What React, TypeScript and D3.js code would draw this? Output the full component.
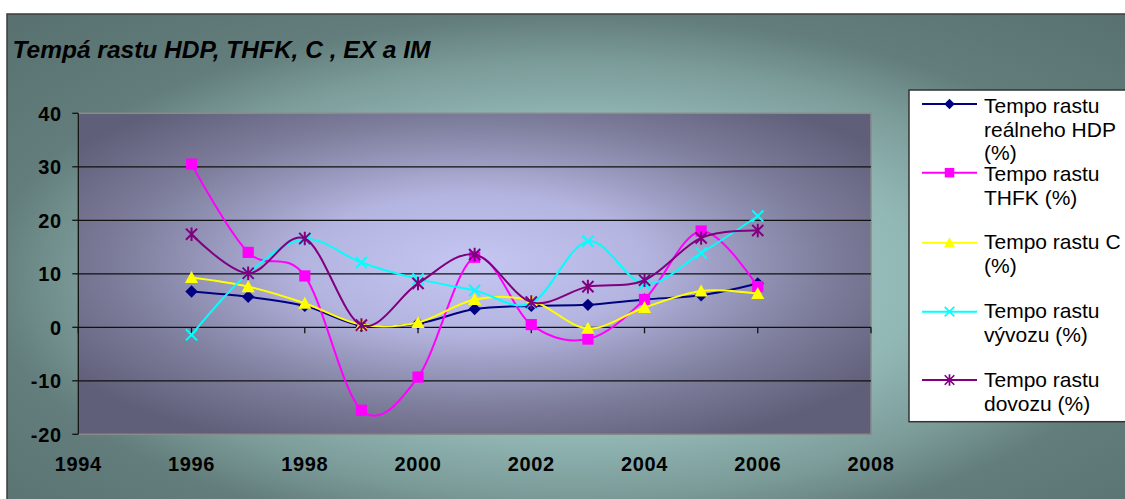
import React from "react";
import * as d3 from "d3";

// Growth rates (%) of the Slovak economy, 1996–2006
const years = [1996, 1997, 1998, 1999, 2000, 2001, 2002, 2003, 2004, 2005, 2006];
const hdp = [6.7, 5.7, 4.0, 0.3, 0.7, 3.4, 4.0, 4.2, 5.2, 6.0, 8.2];
const thfk = [30.5, 14.0, 9.6, -15.5, -9.3, 13.1, 0.5, -2.2, 5.2, 18.0, 7.6];
const spotreba = [9.3, 7.6, 4.5, 0.5, 0.9, 5.2, 5.0, -0.2, 3.7, 6.8, 6.3];
const vyvoz = [-1.4, 10.1, 16.5, 12.1, 9.0, 6.9, 4.5, 16.1, 8.1, 13.9, 20.8];
const dovoz = [17.4, 10.1, 16.6, 0.4, 8.2, 13.6, 4.7, 7.6, 8.8, 16.7, 18.1];

const xTicks = [1994, 1996, 1998, 2000, 2002, 2004, 2006, 2008];
const yTicks = [-20, -10, 0, 10, 20, 30, 40];
const gridValues = [-10, 0, 10, 20, 30];

const title = "Tempá rastu HDP, THFK, C , EX a IM";

type MarkerKind = "diamond" | "square" | "triangle" | "cross" | "star";

const series: { key: string; values: number[]; color: string; marker: MarkerKind; label: string[] }[] = [
  { key: "hdp", values: hdp, color: "#000080", marker: "diamond", label: ["Tempo rastu", "reálneho HDP", "(%)"] },
  { key: "thfk", values: thfk, color: "#ff00ff", marker: "square", label: ["Tempo rastu", "THFK (%)"] },
  { key: "c", values: spotreba, color: "#ffff00", marker: "triangle", label: ["Tempo rastu C", "(%)"] },
  { key: "ex", values: vyvoz, color: "#00ffff", marker: "cross", label: ["Tempo rastu", "vývozu (%)"] },
  { key: "im", values: dovoz, color: "#800080", marker: "star", label: ["Tempo rastu", "dovozu (%)"] },
];

const W = 1125;
const H = 499;
const plot = { left: 78.3, right: 871, top: 113.3, bottom: 434.3 };
const font = "'Liberation Sans', Arial, Helvetica, sans-serif";

function Marker({ kind, color, x, y, s = 1 }: { kind: MarkerKind; color: string; x: number; y: number; s?: number }) {
  const t = `translate(${x},${y}) scale(${s})`;
  switch (kind) {
    case "diamond":
      return <path transform={t} d="M0,-6.2L6.2,0L0,6.2L-6.2,0Z" fill={color} />;
    case "square":
      return <rect transform={t} x={-5.6} y={-5.6} width={11.2} height={11.2} fill={color} />;
    case "triangle":
      return <path transform={t} d="M0,-6.5L6.6,5.5L-6.6,5.5Z" fill={color} />;
    case "cross":
      return (
        <path transform={t} d="M-5.6,-5.6L5.6,5.6M-5.6,5.6L5.6,-5.6" stroke={color} strokeWidth={2} fill="none" />
      );
    case "star":
      return (
        <path
          transform={t}
          d="M-5.6,-5.6L5.6,5.6M-5.6,5.6L5.6,-5.6M0,-6.8L0,6.8"
          stroke={color}
          strokeWidth={2}
          fill="none"
        />
      );
  }
}

export default function App() {
  const x = d3.scaleLinear().domain([1994, 2008]).range([plot.left, plot.right]);
  const y = d3.scaleLinear().domain([-20, 40]).range([plot.bottom, plot.top]);

  // smoothed lines through every data point
  const line = d3
    .line<number>()
    .x((_, i) => x(years[i]))
    .y((v) => y(v))
    .curve(d3.curveCatmullRom.alpha(0));

  const legendX = 909;
  const legendTop = 90;
  const legendBottom = 421.7;
  const entryY = [104, 172.7, 242.7, 311.7, 380];
  const baselineOffset = [9, 8.5, 6.5, 6.5, 7];

  return (
    <svg
      width={W}
      height={H}
      viewBox={`0 0 ${W} ${H}`}
      style={{ position: "absolute", left: 0, top: 0, display: "block", background: "#ffffff" }}
    >
      <defs>
        <radialGradient id="chartBg" cx="0.5" cy="0.52" r="0.72">
          <stop offset="0" stopColor="#a9d0ce" />
          <stop offset="0.42" stopColor="#92b8b6" />
          <stop offset="0.6" stopColor="#7a9a97" />
          <stop offset="0.72" stopColor="#627d7b" />
          <stop offset="1" stopColor="#587170" />
        </radialGradient>
        <radialGradient id="plotBg" cx="0.5" cy="0.47" r="0.62">
          <stop offset="0" stopColor="#c6c6f2" />
          <stop offset="0.35" stopColor="#b4b4e0" />
          <stop offset="0.7" stopColor="#80809f" />
          <stop offset="1" stopColor="#5f5f79" />
        </radialGradient>
        <clipPath id="frameClip">
          <rect x={7} y={14} width={W} height={H} />
        </clipPath>
      </defs>

      {/* chart frame */}
      <rect x={7} y={14} width={W + 10} height={H + 10} fill="url(#chartBg)" stroke="#3c3c3c" strokeWidth={1.5} />

      <text x={12.5} y={58} fontFamily={font} fontSize={24.5} fontWeight="bold" fontStyle="italic" fill="#000">
        {title}
      </text>

      {/* plot area */}
      <rect
        x={plot.left}
        y={plot.top}
        width={plot.right - plot.left}
        height={plot.bottom - plot.top}
        fill="url(#plotBg)"
        stroke="#8a8a8a"
        strokeWidth={1.5}
      />

      {gridValues.map((v) => (
        <line key={v} x1={plot.left} x2={plot.right} y1={y(v)} y2={y(v)} stroke="#111" strokeWidth={1.3} />
      ))}

      {/* y axis */}
      <line x1={plot.left} x2={plot.left} y1={plot.top} y2={plot.bottom} stroke="#111" strokeWidth={1.3} />
      {yTicks.map((v) => (
        <g key={v}>
          <line x1={plot.left - 6} x2={plot.left} y1={y(v)} y2={y(v)} stroke="#111" strokeWidth={1.3} />
          <text
            x={62}
            y={y(v)}
            dy="0.36em"
            textAnchor="end"
            fontFamily={font}
            fontSize={20}
            fontWeight="bold"
            letterSpacing={0.8}
            fill="#000"
          >
            {v}
          </text>
        </g>
      ))}

      {/* x axis crosses at zero, labels sit below the plot */}
      {xTicks.map((t) => (
        <g key={t}>
          <line x1={x(t)} x2={x(t)} y1={y(0)} y2={y(0) + 6} stroke="#111" strokeWidth={1.3} />
          <text
            x={x(t)}
            y={470.5}
            textAnchor="middle"
            fontFamily={font}
            fontSize={20}
            fontWeight="bold"
            letterSpacing={0.6}
            fill="#000"
          >
            {t}
          </text>
        </g>
      ))}

      {/* series */}
      {series.map((s) => (
        <g key={s.key}>
          <path d={line(s.values) ?? ""} fill="none" stroke={s.color} strokeWidth={2} />
          {s.values.map((v, i) => (
            <Marker key={i} kind={s.marker} color={s.color} x={x(years[i])} y={y(v)} />
          ))}
        </g>
      ))}

      {/* legend */}
      <g clipPath="url(#frameClip)">
        <rect
          x={legendX}
          y={legendTop}
          width={W - legendX + 20}
          height={legendBottom - legendTop}
          fill="#ffffff"
          stroke="#333"
          strokeWidth={1.5}
        />
        {series.map((s, i) => (
          <g key={s.key}>
            <line x1={922} x2={977} y1={entryY[i]} y2={entryY[i]} stroke={s.color} strokeWidth={2} />
            <Marker kind={s.marker} color={s.color} x={949.5} y={entryY[i]} s={0.85} />
            {s.label.map((ln, j) => (
              <text
                key={j}
                x={984}
                y={entryY[i] + baselineOffset[i] + j * 23.5}
                fontFamily={font}
                fontSize={21}
                fill="#000"
              >
                {ln}
              </text>
            ))}
          </g>
        ))}
      </g>
    </svg>
  );
}
